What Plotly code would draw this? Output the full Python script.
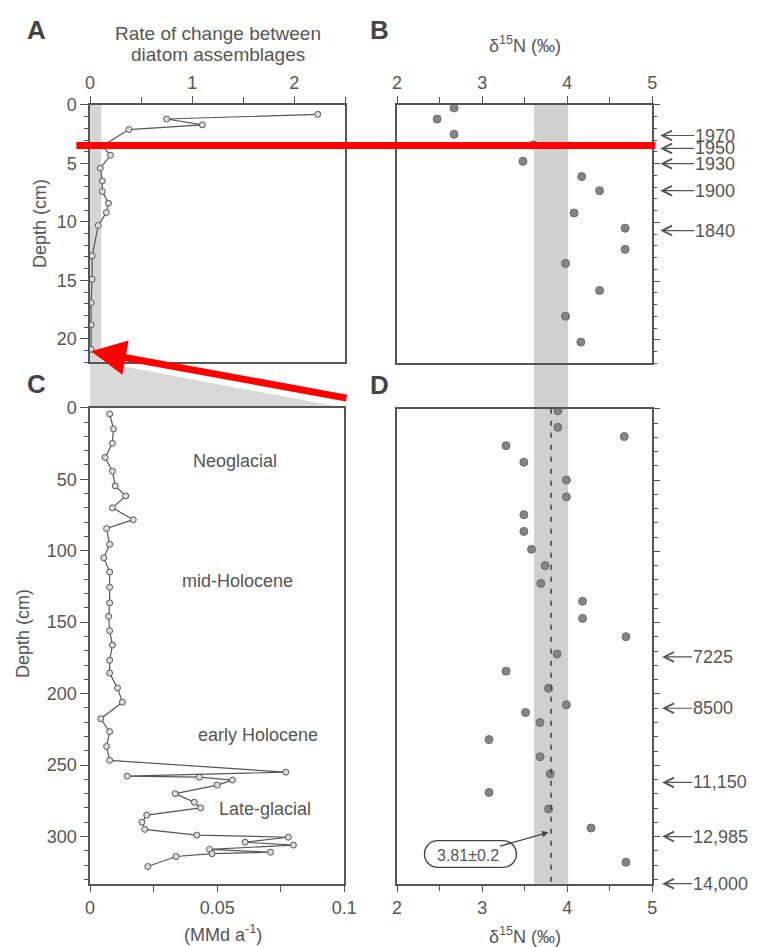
import plotly.graph_objects as go

W, H = 767, 947
FONT = "Liberation Sans, Arial, Helvetica, sans-serif"
INK = "#555555"

# ---------------- data ----------------
# Panel A: rate of change between diatom assemblages vs depth (cm)
depth_A = [0.8, 1.2, 1.7, 2.1, 3.5, 4.3, 5.4, 6.5, 7.4, 8.4, 9.2, 10.3, 12.9, 14.9, 16.9, 18.8, 20.9]
rate_A = [2.23, 0.75, 1.10, 0.38, 0.12, 0.20, 0.10, 0.12, 0.12, 0.18, 0.16, 0.08, 0.02, 0.02, 0.01, 0.01, 0.01]

# Panel B: d15N vs depth (cm), recent sediments
depth_B = [0.25, 1.2, 2.5, 3.4, 4.8, 6.1, 7.3, 9.2, 10.5, 12.3, 13.5, 15.8, 18.0, 20.2]
d15N_B = [2.67, 2.47, 2.67, 3.60, 3.48, 4.17, 4.38, 4.08, 4.68, 4.68, 3.98, 4.38, 3.98, 4.16]

# Panel C: rate of change (MMd a-1) vs depth (cm), Holocene core
depth_C = [4.3, 14.8, 24.9, 34.8, 44.4, 54.7, 61.7, 70.0, 78.3, 84.5, 95.6, 105.0, 115.0,
           125.6, 136.5, 146.0, 156.0, 166.0, 176.7, 185.7, 196.0, 206.0, 217.6, 226.6, 237.0,
           246.7, 255.0, 257.8, 258.5, 260.5, 264.0, 270.0, 276.0, 280.0, 285.0, 290.0, 295.0,
           299.0, 300.5, 304.0, 306.0, 309.0, 311.0, 312.0, 314.0, 321.0]
rate_C = [0.0077, 0.0092, 0.0088, 0.0059, 0.0088, 0.0099, 0.0140, 0.0088, 0.0170, 0.0065, 0.0077,
          0.0054, 0.0077, 0.0077, 0.0077, 0.0073, 0.0077, 0.0088, 0.0077, 0.0077, 0.0108, 0.0127,
          0.0042, 0.0077, 0.0065, 0.0077, 0.0770, 0.0146, 0.0430, 0.0560, 0.0500, 0.0335, 0.0410,
          0.0435, 0.0223, 0.0204, 0.0215, 0.0420, 0.0780, 0.0610, 0.0800, 0.0470, 0.0710, 0.0480,
          0.0338, 0.0227]

# Panel D: d15N vs depth (cm), Holocene core
depth_D = [1.4, 13, 19.5, 25.9, 37.5, 50, 61.8, 74.3, 86, 98.6, 110, 122.5, 135, 147, 159.8,
           172, 184, 196, 207.6, 213, 220, 232, 244, 256, 269, 280.6, 294, 318]
d15N_D = [3.89, 3.89, 4.67, 3.28, 3.49, 3.99, 3.99, 3.49, 3.49, 3.58, 3.74, 3.69, 4.18, 4.18,
          4.69, 3.88, 3.28, 3.78, 3.99, 3.51, 3.68, 3.08, 3.68, 3.80, 3.08, 3.78, 4.28, 4.69]

mean_d15N = 3.81
sd_d15N = 0.2

# date markers (depth in cm, label)
dates_B = [(2.6, "1970"), (3.7, "1950"), (5.0, "1930"), (7.3, "1900"), (10.7, "1840")]
dates_D = [(174, "7225"), (210, "8500"), (262, "11,150"), (300, "12,985"), (333, "14,000")]

zones_C = [("Neoglacial", 0.057, 37), ("mid-Holocene", 0.058, 121), ("early Holocene", 0.066, 229),
           ("Late-glacial", 0.069, 281)]

# ---------------- layout geometry (pixels) ----------------
def xd(a, b):
    return [a / W, b / W]


def yd(top, bot):
    return [1 - bot / H, 1 - top / H]


def P(px, py):
    return px / W, 1 - py / H


A_X = (87, 348); A_Y = (96, 356)
B_X = (401, 662); B_Y = (96, 357)
C_X = (87, 347); C_Y = (402, 883)
D_X = (401, 662); D_Y = (403, 883)

tickfont = dict(size=18, color=INK, family=FONT)


def axis(**kw):
    base = dict(showline=True, linecolor=INK, linewidth=1.5, mirror=True, showgrid=False,
                zeroline=False, ticks="outside", tickcolor=INK, tickwidth=1.2, ticklen=7,
                tickfont=tickfont, fixedrange=True)
    base.update(kw)
    return base


def minor(d, ln=4):
    return dict(dtick=d, ticklen=ln, tickcolor=INK, tickwidth=1.1, ticks="outside", showgrid=False)


fig = go.Figure()

line_style = dict(color=INK, width=1.2)
open_marker = dict(size=6, color="#dcdcdc", line=dict(color=INK, width=1))
dot_marker = dict(size=8, color="#858585", line=dict(color="#6a6a6a", width=1))

fig.add_trace(go.Scatter(x=rate_A, y=depth_A, xaxis="x", yaxis="y", mode="lines+markers",
                         line=line_style, marker=open_marker, showlegend=False))
fig.add_trace(go.Scatter(x=d15N_B, y=depth_B, xaxis="x2", yaxis="y2", mode="markers",
                         marker=dot_marker, showlegend=False))
fig.add_trace(go.Scatter(x=rate_C, y=depth_C, xaxis="x3", yaxis="y3", mode="lines+markers",
                         line=line_style, marker=open_marker, showlegend=False))
fig.add_trace(go.Scatter(x=d15N_D, y=depth_D, xaxis="x4", yaxis="y4", mode="markers",
                         marker=dot_marker, showlegend=False))
# mean line in D
fig.add_trace(go.Scatter(x=[mean_d15N, mean_d15N], y=[0, 333], xaxis="x4", yaxis="y4", mode="lines",
                         line=dict(color="#444444", width=1.5, dash="5px,7px"), showlegend=False,
                         hoverinfo="skip"))

fig.update_layout(
    width=W, height=H, margin=dict(l=0, r=0, t=0, b=0),
    paper_bgcolor="white", plot_bgcolor="rgba(0,0,0,0)",
    font=dict(family=FONT, color=INK, size=17),
    xaxis=axis(domain=xd(*A_X), range=[0, 2.5], side="top", anchor="y", dtick=1,
               minor=minor(0.5, 6)),
    yaxis=axis(domain=yd(*A_Y), range=[22, 0], anchor="x", dtick=5, ticklen=8,
               minor=minor(1, 4)),
    xaxis2=axis(domain=xd(*B_X), range=[2, 5.0001], side="top", anchor="y2", dtick=1,
                minor=minor(0.5, 6)),
    yaxis2=axis(domain=yd(*B_Y), range=[22, 0], anchor="x2", side="right", dtick=5, ticklen=6,
                showticklabels=False, minor=minor(1, 3)),
    xaxis3=axis(domain=xd(*C_X), range=[0, 0.10001], anchor="y3", dtick=0.05, tick0=0,
                minor=minor(0.025, 7)),
    yaxis3=axis(domain=yd(*C_Y), range=[333, 0], anchor="x3", dtick=50, ticklen=8,
                minor=minor(10, 4)),
    xaxis4=axis(domain=xd(*D_X), range=[2, 5.0001], anchor="y4", dtick=1,
                minor=minor(0.5, 6)),
    yaxis4=axis(domain=yd(*D_Y), range=[333, 0], anchor="x4", side="right", dtick=50, ticklen=6,
                showticklabels=False, minor=minor(10, 4)),
)

shapes = []
# gray band in A (0 - 0.11)
shapes.append(dict(type="rect", xref="x", yref="y", x0=0, x1=0.11, y0=0, y1=22,
                   fillcolor="#d6d6d6", line=dict(width=0), layer="below"))
# connecting wedge between A band and C
a_band_right = A_X[0] + 0.11 / 2.5 * (A_X[1] - A_X[0])
pts = [P(A_X[0], A_Y[1]), P(a_band_right, A_Y[1]), P(C_X[1], C_Y[0]), P(C_X[0], C_Y[0])]
path = "M " + " L ".join(f"{x:.5f},{y:.5f}" for x, y in pts) + " Z"
shapes.append(dict(type="path", xref="paper", yref="paper", path=path,
                   fillcolor="#d9d9d9", line=dict(width=0), layer="below"))
# mean +/- sd band through B and D
shapes.append(dict(type="rect", xref="x4", yref="paper", x0=mean_d15N - sd_d15N,
                   x1=mean_d15N + sd_d15N, y0=1 - D_Y[1] / H, y1=1 - B_Y[0] / H,
                   fillcolor="#d0d0d0", line=dict(width=0), layer="below"))


# rounded box round the mean label
def stadium(cx, cy, w, h):
    r = h / 2.0
    k = 0.5523 * r
    x0, x1, yt, yb = cx - w / 2, cx + w / 2, cy - r, cy + r
    seq = [("M", [(x0 + r, yt)]), ("L", [(x1 - r, yt)]),
           ("C", [(x1 - r + k, yt), (x1, cy - k), (x1, cy)]),
           ("C", [(x1, cy + k), (x1 - r + k, yb), (x1 - r, yb)]),
           ("L", [(x0 + r, yb)]),
           ("C", [(x0 + r - k, yb), (x0, cy + k), (x0, cy)]),
           ("C", [(x0, cy - k), (x0 + r - k, yt), (x0 + r, yt)])]
    out = []
    for cmd, ps in seq:
        out.append(cmd + " " + " ".join("%.5f,%.5f" % P(px, py) for px, py in ps))
    return " ".join(out) + " Z"


shapes.append(dict(type="path", xref="paper", yref="paper", path=stadium(476, 853, 94, 27),
                   line=dict(color="#444444", width=1.4), fillcolor="rgba(255,255,255,0)"))

# red overlay marks
rx0, ry = P(73, 137)
rx1, _ = P(665, 137)
shapes.append(dict(type="line", xref="paper", yref="paper", x0=rx0, x1=rx1, y0=ry, y1=ry,
                   line=dict(color="#ff0000", width=7), layer="above"))

fig.update_layout(shapes=shapes)

ann = []


def text(px, py, s, size=18, color=INK, **kw):
    x, y = P(px, py)
    d = dict(x=x, y=y, xref="paper", yref="paper", text=s, showarrow=False,
             xanchor="center", yanchor="middle",
             font=dict(size=size, color=color, family=FONT))
    d.update(kw)
    ann.append(d)


# panel letters
for lx, ly, s in [(32, 20, "A"), (383, 20, "B"), (32, 378, "C"), (383, 379, "D")]:
    text(lx, ly, "<b>%s</b>" % s, size=26, color="#444444")

# axis titles
text(218, 24, "Rate of change between", size=19)
text(218, 45, "diatom assemblages", size=19)
text(532, 35, "δ<sup>15</sup>N (‰)", size=18)
text(532, 935, "δ<sup>15</sup>N (‰)", size=18)
text(223, 933, "(MMd a<sup>-1</sup>)", size=18)
text(35, 216, "Depth (cm)", size=18, textangle=-90)
text(19, 630, "Depth (cm)", size=18, textangle=-90)

# zone labels in C
for s, xv, yv in zones_C:
    ann.append(dict(x=xv, y=yv, xref="x3", yref="y3", text=s, showarrow=False,
                    xanchor="center", yanchor="middle",
                    font=dict(size=18, color=INK, family=FONT)))

# date arrows
tipB = (B_X[1] + 8) / W
for d, s in dates_B:
    ann.append(dict(x=tipB, y=d, xref="paper", yref="y2", text=s, showarrow=True,
                    ax=34, ay=0, xanchor="left", yanchor="middle", arrowhead=5, arrowsize=1.6,
                    arrowwidth=1.2, arrowcolor=INK, borderpad=0,
                    font=dict(size=18, color=INK, family=FONT)))
tipD = (D_X[1] + 10) / W
for d, s in dates_D:
    ann.append(dict(x=tipD, y=d, xref="paper", yref="y4", text=s, showarrow=True,
                    ax=30, ay=0, xanchor="left", yanchor="middle", arrowhead=5, arrowsize=1.6,
                    arrowwidth=1.2, arrowcolor=INK, borderpad=0,
                    font=dict(size=18, color=INK, family=FONT)))

# mean label with arrow
ann.append(dict(x=3.78, y=297, xref="x4", yref="y4", text="3.81±0.2", showarrow=True,
                ax=-81, ay=23, arrowhead=2, arrowsize=1, arrowwidth=1.3, arrowcolor="#444444",
                font=dict(size=16, color=INK, family=FONT)))

# red overlay arrow
tx, ty = P(88, 345)
ann.append(dict(x=tx, y=ty, xref="paper", yref="paper", text="", showarrow=True,
                ax=257, ay=47, arrowhead=2, arrowsize=1, arrowwidth=7, arrowcolor="#ff0000"))

fig.update_layout(annotations=ann)

fig.write_html("out.html")
